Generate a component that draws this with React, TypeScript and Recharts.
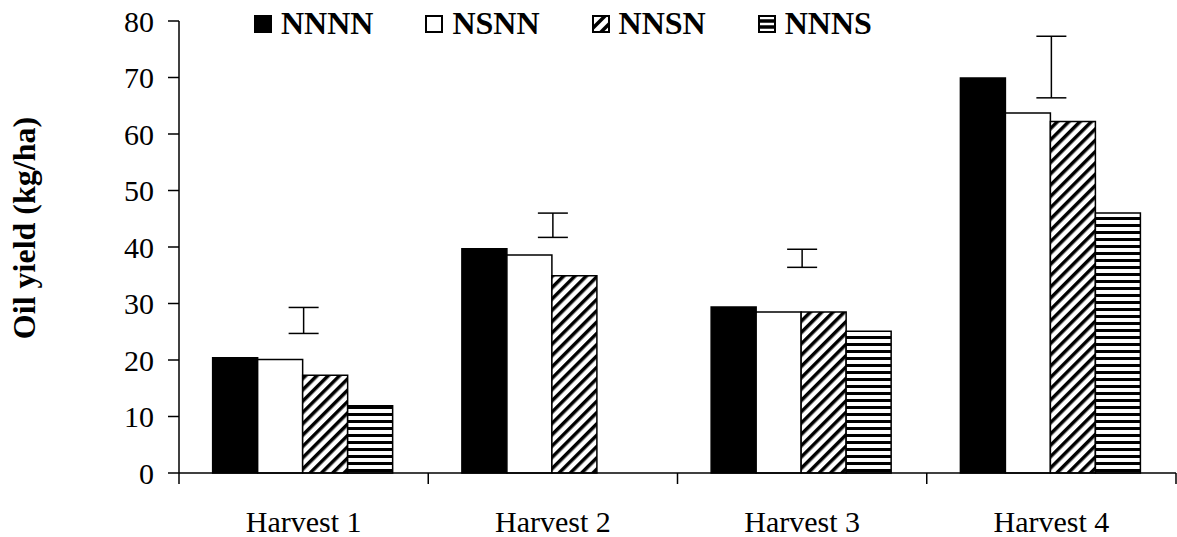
import {
    Bar,
    ComposedChart,
    ErrorBar,
    Legend,
    Line,
    XAxis,
    YAxis,
} from 'recharts';

const categories = ['Harvest 1', 'Harvest 2', 'Harvest 3', 'Harvest 4'];
const nnnn = [20.4, 39.7, 29.4, 69.9];
const nsnn = [20.1, 38.6, 28.5, 63.7];
const nnsn = [17.3, 34.9, 28.5, 62.2];
const nnns = [11.9, null, 25.1, 46.0];
// floating LSD bars, bottom and top
const lsdLow = [24.7, 41.7, 36.4, 66.4];
const lsdHigh = [29.3, 46.0, 39.6, 77.3];
const yTicks = [0, 10, 20, 30, 40, 50, 60, 70, 80];

const W = 1177;
const H = 537;
const Y_AXIS_W = 179;
const MARGIN_RIGHT = 1;
const PLOT_W = W - Y_AXIS_W - MARGIN_RIGHT;
const FONT = 'Liberation Serif, Tinos, Times New Roman, DejaVu Serif, serif';

const data = categories.map((name, i) => ({
    name,
    nnnn: nnnn[i],
    nsnn: nsnn[i],
    nnsn: nnsn[i],
    nnns: nnns[i],
    lsdLow: lsdLow[i],
    lsdErr: [0, +(lsdHigh[i] - lsdLow[i]).toFixed(2)],
}));

const series = [
    { key: 'nnnn', label: 'NNNN', fill: '#000' },
    { key: 'nsnn', label: 'NSNN', fill: '#fff' },
    { key: 'nnsn', label: 'NNSN', fill: 'url(#diag)' },
    { key: 'nnns', label: 'NNNS', fill: 'url(#horiz)' },
];

const Swatch = ({ kind }: { kind: string }) => (
    <svg width={18} height={18} style={{ display: 'block' }}>
        <defs>
            <clipPath id={`sw-${kind}`}>
                <rect x={0} y={0} width={18} height={18} />
            </clipPath>
        </defs>
        <rect x={1} y={1} width={16} height={16} fill={kind === 'nnnn' ? '#000' : '#fff'} stroke="#000" strokeWidth={2} />
        {kind === 'nnsn' && (
            <g clipPath={`url(#sw-${kind})`} stroke="#000" strokeWidth={3.5}>
                <line x1={0} y1={14} x2={14} y2={0} />
                <line x1={6} y1={20} x2={20} y2={6} />
            </g>
        )}
        {kind === 'nnns' && (
            <g stroke="#000" strokeWidth={3.5}>
                <line x1={1} y1={6} x2={17} y2={6} />
                <line x1={1} y1={12} x2={17} y2={12} />
            </g>
        )}
    </svg>
);

const renderLegend = () => (
    <div style={{ display: 'flex', alignItems: 'center', gap: 52, fontFamily: FONT }}>
        {series.map((s) => (
            <div key={s.key} style={{ display: 'flex', alignItems: 'center' }}>
                <Swatch kind={s.key} />
                <span style={{ marginLeft: 9, fontSize: 32, fontWeight: 'bold', color: '#000', fontFamily: FONT }}>{s.label}</span>
            </div>
        ))}
    </div>
);

const HarvestTick = (props: any) => {
    const { x, y, payload, index } = props;
    const half = PLOT_W / categories.length / 2;
    return (
        <g>
            <line x1={x - half} x2={x - half} y1={y} y2={y + 11} stroke="#000" strokeWidth={1.5} />
            {index === categories.length - 1 && (
                <line x1={x + half} x2={x + half} y1={y} y2={y + 11} stroke="#000" strokeWidth={1.5} />
            )}
            <text x={x} y={y + 59} textAnchor="middle" style={{ fontSize: 30, fontFamily: FONT }} fill="#000">
                {payload.value}
            </text>
        </g>
    );
};

export default function App() {
    return (
        <div style={{ width: W, height: H, background: '#fff', fontFamily: FONT }}>
            <style>{'body{margin:0}'}</style>
            <ComposedChart
                width={W}
                height={H}
                data={data}
                margin={{ top: 21, right: MARGIN_RIGHT, bottom: 0, left: 0 }}
                barCategoryGap="13.5%"
                barGap={0}
                style={{ fontFamily: FONT }}
            >
                <defs>
                    <pattern id="diag" patternUnits="userSpaceOnUse" width={8} height={8} patternTransform="rotate(45)">
                        <rect x={0} y={0} width={8} height={8} fill="#fff" />
                        <rect x={0} y={0} width={3.5} height={8} fill="#000" />
                    </pattern>
                    <pattern id="horiz" patternUnits="userSpaceOnUse" width={8} height={7}>
                        <rect x={0} y={0} width={8} height={7} fill="#fff" />
                        <rect x={0} y={0} width={8} height={3} fill="#000" />
                    </pattern>
                </defs>
                <XAxis
                    dataKey="name"
                    height={64}
                    tickLine={false}
                    tickSize={0}
                    tickMargin={0}
                    axisLine={{ stroke: '#000', strokeWidth: 1.5 }}
                    tick={<HarvestTick />}
                    interval={0}
                />
                <YAxis
                    width={Y_AXIS_W}
                    domain={[0, 80]}
                    ticks={yTicks}
                    tickSize={11}
                    tickMargin={14}
                    axisLine={{ stroke: '#000', strokeWidth: 1.5 }}
                    tickLine={{ stroke: '#000', strokeWidth: 1.5 }}
                    tick={{ fontSize: 30, fontFamily: FONT, fill: '#000' }}
                    label={{
                        value: 'Oil yield (kg/ha)',
                        content: () => (
                            <text
                                x={24}
                                y={228}
                                transform="rotate(-90 24 228)"
                                textAnchor="middle"
                                dominantBaseline="central"
                                style={{ fontSize: 32, fontWeight: 'bold', fontFamily: FONT }}
                                fill="#000"
                            >
                                Oil yield (kg/ha)
                            </text>
                        ),
                    }}
                />
                <Legend
                    verticalAlign="middle"
                    align="center"
                    layout="horizontal"
                    content={renderLegend}
                    wrapperStyle={{ top: 5, left: 254, width: 800 }}
                />
                {series.map((s) => (
                    <Bar
                        key={s.key}
                        dataKey={s.key}
                        fill={s.fill}
                        stroke="#000"
                        strokeWidth={1.5}
                        isAnimationActive={false}
                    />
                ))}
                <Line
                    dataKey="lsdLow"
                    stroke="none"
                    dot={false}
                    activeDot={false}
                    legendType="none"
                    isAnimationActive={false}
                >
                    <ErrorBar dataKey="lsdErr" direction="y" width={15} stroke="#000" strokeWidth={1.5} />
                </Line>
            </ComposedChart>
        </div>
    );
}
